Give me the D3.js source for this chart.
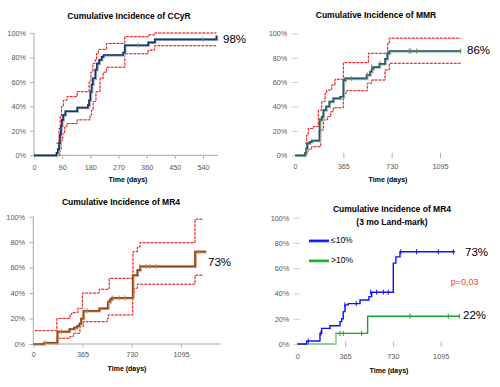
<!DOCTYPE html>
<html>
<head>
<meta charset="utf-8">
<script src="https://d3js.org/d3.v7.min.js"></script>
<style>
  body { margin: 0; background: #fff; }
  svg text { font-family: "Liberation Sans", Arial, sans-serif; }
</style>
</head>
<body>
<svg width="500" height="387"></svg>
<script>
// ---- data: [day, cumulative %] steps ----
var pctTicks = [0, 20, 40, 60, 80, 100];
var ccyrTicks = [0, 90, 180, 270, 360, 450, 540];
var dayTicks = [0, 365, 730, 1095];

var ccyrMain = [[0,0],[72,2],[76,5],[80,10],[83,17],[86,24],[89,29],[93,33],[100,36],[138,39],[172,41],[176,45],[180,52],[184,58],[188,63],[196,70],[201,75],[208,78],[216,80.5],[222,82],[285,84],[290,90],[365,92.4],[386,94.8],[583,98]];
var ccyrUpper = [[72,10],[80,22],[84,32],[88,40],[94,45],[105,48],[138,52],[176,60],[182,68],[188,75],[195,78],[200,83],[206,86.6],[232,91.5],[290,97],[365,98.5],[386,100],[583,100]];
var ccyrLower = [[80,0],[83,5],[87,12],[92,18],[98,23],[105,26],[138,29],[179,33],[184,37],[189,44],[198,52],[211,63],[221,68],[232,72],[290,83],[365,86],[386,89.6],[583,89.6]];
var ccyrCensor = [[333,90],[540,94.8]];

var mmrMain = [[0,0],[76,2],[84,5.7],[92,9.8],[110,11],[126,12],[184,20],[186,29],[202,31.6],[214,37],[234,40],[259,44],[289,46.7],[340,48],[365,61.7],[378,63],[541,65.8],[566,68.5],[579,71],[590,72.3],[637,75],[680,79],[697,83.6],[712,85.5],[1251,85.5]];
var mmrUpper = [[76,10],[88,16.6],[100,22],[138,23.5],[176,37],[202,44],[227,50.8],[239,53.5],[277,57.6],[302,62.3],[365,76],[554,83.6],[700,91.8],[712,96],[1251,96]];
var mmrLower = [[84,0],[88,3],[100,5],[126,7],[194,20.7],[214,29],[244,31.7],[270,35.7],[289,39],[365,50.8],[390,53],[546,59],[579,61.7],[680,70],[712,75.4],[1251,75.4]];
var mmrCensor = [[88,3],[189,29],[385,62],[428,63],[546,65.8],[579,72.3],[642,75],[863,85.5],[875,85.5],[919,85.5],[1251,85.5]];

var mr4Main = [[0,0],[79,1],[178,9.7],[267,11.8],[302,12.8],[322,14],[341,16],[354,20],[371,26],[489,28],[552,33],[569,35],[581,36.2],[737,54],[771,58],[791,61],[1199,72.5],[1280,72.5]];
var mr4Upper = [[12,10.5],[175,20],[272,23],[285,24.6],[330,28],[364,40],[489,43],[563,51.6],[739,72.5],[771,76],[791,79.6],[1199,98],[1260,98]];
var mr4Lower = [[170,0],[178,4.5],[272,5.8],[297,8.4],[346,13.6],[371,17.5],[549,20],[556,22.8],[737,40],[750,43.7],[771,47],[1199,54],[1260,54]];
var mr4Censor = [[87,1],[210,9.7],[383,26],[400,26],[556,33],[593,36.2],[637,36.2],[680,36.2],[791,61],[840,61],[865,61],[910,61],[1223,72.5]];

var lowMain = [[0,0],[72,2.4],[173,8.4],[186,12.4],[250,14.5],[326,17.7],[339,20],[351,25.6],[364,31],[389,32],[479,34.8],[547,37.5],[568,41],[733,64],[753,69],[784,73],[1204,73]];
var lowCensor = [[84,2.4],[180,8.4],[364,31],[450,32],[560,41],[606,41],[657,41],[695,41],[790,73],[911,73],[1077,73],[1191,73]];
var highMain = [[0,0],[293,8.4],[537,22],[1237,22]];
var highCensor = [[326,8.4],[351,8.4],[491,8.4],[860,22],[1153,22],[1237,22]];

var svg = d3.select("svg");

function stepLine(x, y) {
  return d3.line().x(d => x(d[0])).y(d => y(d[1])).curve(d3.curveStepAfter);
}

function drawPanel(p) {
  var x = d3.scaleLinear().domain(p.xDomain).range(p.xRange);
  var y = d3.scaleLinear().domain([0, 100]).range(p.yRange);
  var g = svg.append("g");

  // y axis
  var ya = g.append("g")
    .attr("transform", "translate(" + p.yAxisX + ",0)")
    .call(d3.axisLeft(y).tickValues(pctTicks).tickFormat(d => d + "%")
      .tickSize(p.yTickSize).tickPadding(p.yPad));
  // x axis
  var xa = g.append("g")
    .attr("transform", "translate(0," + p.xAxisY + ")")
    .call(d3.axisBottom(x).tickValues(p.xTicks).tickFormat(d3.format("d"))
      .tickSize(p.xTickSize).tickPadding(p.xPad));
  [ya, xa].forEach(a => {
    a.selectAll("text").attr("fill", "#595959").style("font-size", "7.3px");
    a.selectAll("line").attr("stroke", "#b0b0b0");
    a.select(".domain").attr("stroke", "#a6a6a6");
  });
  if (!p.axisLines) {
    ya.select(".domain").remove();
    xa.select(".domain").remove();
    xa.selectAll(".tick").filter(d => d === 0).select("line").remove();
    ya.selectAll("line").attr("stroke", "#d0d0d0");
  } else {
    xa.select(".domain").attr("d", "M" + p.xRange[0] + ",0H" + p.axisEnd);
    ya.select(".domain").attr("d", "M0," + p.yRange[0] + "V" + p.yRange[1]);
  }

  var line = stepLine(x, y);
  (p.ci || []).forEach(c => {
    g.append("path").attr("d", line(c)).attr("fill", "none")
      .attr("stroke", "#f6b4b4").attr("stroke-width", 1);
    g.append("path").attr("d", line(c)).attr("fill", "none")
      .attr("stroke", "#f01010").attr("stroke-width", 1).attr("stroke-dasharray", "2.5,1.5");
  });
  p.series.forEach(s => {
    if (s.shadow) {
      g.append("path").attr("d", line(s.data)).attr("fill", "none")
        .attr("stroke", s.shadow).attr("stroke-width", 2.6).attr("transform", "translate(0.6,0.4)");
    }
    g.append("path").attr("d", line(s.data)).attr("fill", "none")
      .attr("stroke", s.color).attr("stroke-width", s.width);
    if (s.baseColor) {
      g.append("path").attr("d", line(s.data.slice(0, 2)).split("V")[0])
        .attr("fill", "none").attr("stroke", s.baseColor).attr("stroke-width", s.width);
    }
    g.selectAll(null).data(s.censor).enter().append("line")
      .attr("x1", d => x(d[0])).attr("x2", d => x(d[0]))
      .attr("y1", d => y(d[1]) - 2.5).attr("y2", d => y(d[1]) + 2.5)
      .attr("stroke", s.censorColor).attr("stroke-width", 1);
  });

  p.titles.forEach((t, i) => {
    g.append("text").attr("x", p.titleX).attr("y", p.titleY + i * 13)
      .attr("text-anchor", "middle").attr("dominant-baseline", "central")
      .style("font-size", "8.5px").style("font-weight", "bold").text(t);
  });
  g.append("text").attr("x", p.timeX).attr("y", p.timeY)
    .attr("text-anchor", "middle").attr("dominant-baseline", "central")
    .style("font-size", "7px").style("font-weight", "bold").text("Time (days)");
  p.notes.forEach(n => {
    g.append("text").attr("x", n.x).attr("y", n.y).attr("dominant-baseline", "central")
      .attr("fill", n.color || "#000").style("font-size", n.size || "11.5px").text(n.text);
  });
  return g;
}

drawPanel({
  xDomain: [0, 540], xRange: [34, 203], yRange: [155.3, 33], xTicks: ccyrTicks,
  yAxisX: 34, yTickSize: 4, yPad: 4, xAxisY: 155.3, xTickSize: 3.5, xPad: 6,
  axisLines: true, axisEnd: 218,
  ci: [ccyrUpper, ccyrLower],
  series: [{data: ccyrMain, color: "#1c3560", shadow: "#a9b9d0", width: 1.7, censor: ccyrCensor, censorColor: "#8c9cb4"}],
  titles: ["Cumulative Incidence  of CCyR"], titleX: 129, titleY: 16,
  timeX: 128, timeY: 179,
  notes: [{text: "98%", x: 223, y: 39}]
});

drawPanel({
  xDomain: [0, 1095], xRange: [295, 440], yRange: [155.3, 33.3], xTicks: dayTicks,
  yAxisX: 298.3, yTickSize: 6.6, yPad: 4.4, xAxisY: 152.7, xTickSize: 5.6, xPad: 6,
  axisLines: false,
  ci: [mmrUpper, mmrLower],
  series: [{data: mmrMain, color: "#2c5a64", shadow: "#a8c0c4", width: 1.7, censor: mmrCensor, censorColor: "#6f8a3a"}],
  titles: ["Cumulative Incidence of MMR"], titleX: 376, titleY: 15,
  timeX: 388, timeY: 179.3,
  notes: [{text: "86%", x: 467, y: 50}]
});

drawPanel({
  xDomain: [0, 1095], xRange: [33.3, 181], yRange: [344, 216.7], xTicks: dayTicks,
  yAxisX: 33.3, yTickSize: 4, yPad: 4.3, xAxisY: 344, xTickSize: 3.5, xPad: 4,
  axisLines: true, axisEnd: 220.7,
  ci: [mr4Upper, mr4Lower],
  series: [{data: mr4Main, color: "#94461a", shadow: "#d6ad88", width: 1.7, censor: mr4Censor, censorColor: "#b88a62"}],
  titles: ["Cumulative Incidence of MR4"], titleX: 121, titleY: 202.3,
  timeX: 127, timeY: 368.3,
  notes: [{text: "73%", x: 208, y: 261.7}]
});

var p4 = drawPanel({
  xDomain: [0, 1095], xRange: [297.3, 440.7], yRange: [344, 217.7], xTicks: dayTicks,
  yAxisX: 300, yTickSize: 6.7, yPad: 4, xAxisY: 341.7, xTickSize: 5, xPad: 7.5,
  axisLines: false,
  ci: [],
  series: [
    {data: highMain, color: "#17a42e", baseColor: "#9edc9e", width: 1.4, censor: highCensor, censorColor: "#17a42e"},
    {data: lowMain, color: "#1010ff", width: 1.4, censor: lowCensor, censorColor: "#1010ff"}
  ],
  titles: ["Cumulative Incidence  of MR4", "(3 mo Land-mark)"], titleX: 392, titleY: 209,
  timeX: 389, timeY: 370,
  notes: [{text: "73%", x: 465, y: 251.7}, {text: "22%", x: 463, y: 315},
          {text: "p=0,03", x: 450.7, y: 281.7, color: "#ff3b3b", size: "9px"}]
});

// legend
var legend = [{label: "\u226410%", color: "#1010ff", shadow: "#9aa8f0"}, {label: ">10%", color: "#17a42e", shadow: "#a8dca8"}];
legend.forEach((l, i) => {
  var ly = 240.7 + i * 20;
  p4.append("line").attr("x1", 309).attr("x2", 329).attr("y1", ly + 0.8).attr("y2", ly + 0.8)
    .attr("stroke", l.shadow).attr("stroke-width", 2.5);
  p4.append("line").attr("x1", 309).attr("x2", 329).attr("y1", ly).attr("y2", ly)
    .attr("stroke", l.color).attr("stroke-width", 2.2);
  p4.append("text").attr("x", 331).attr("y", ly - 1).attr("dominant-baseline", "central")
    .style("font-size", "8.5px").text(l.label);
});
</script>
</body>
</html>
